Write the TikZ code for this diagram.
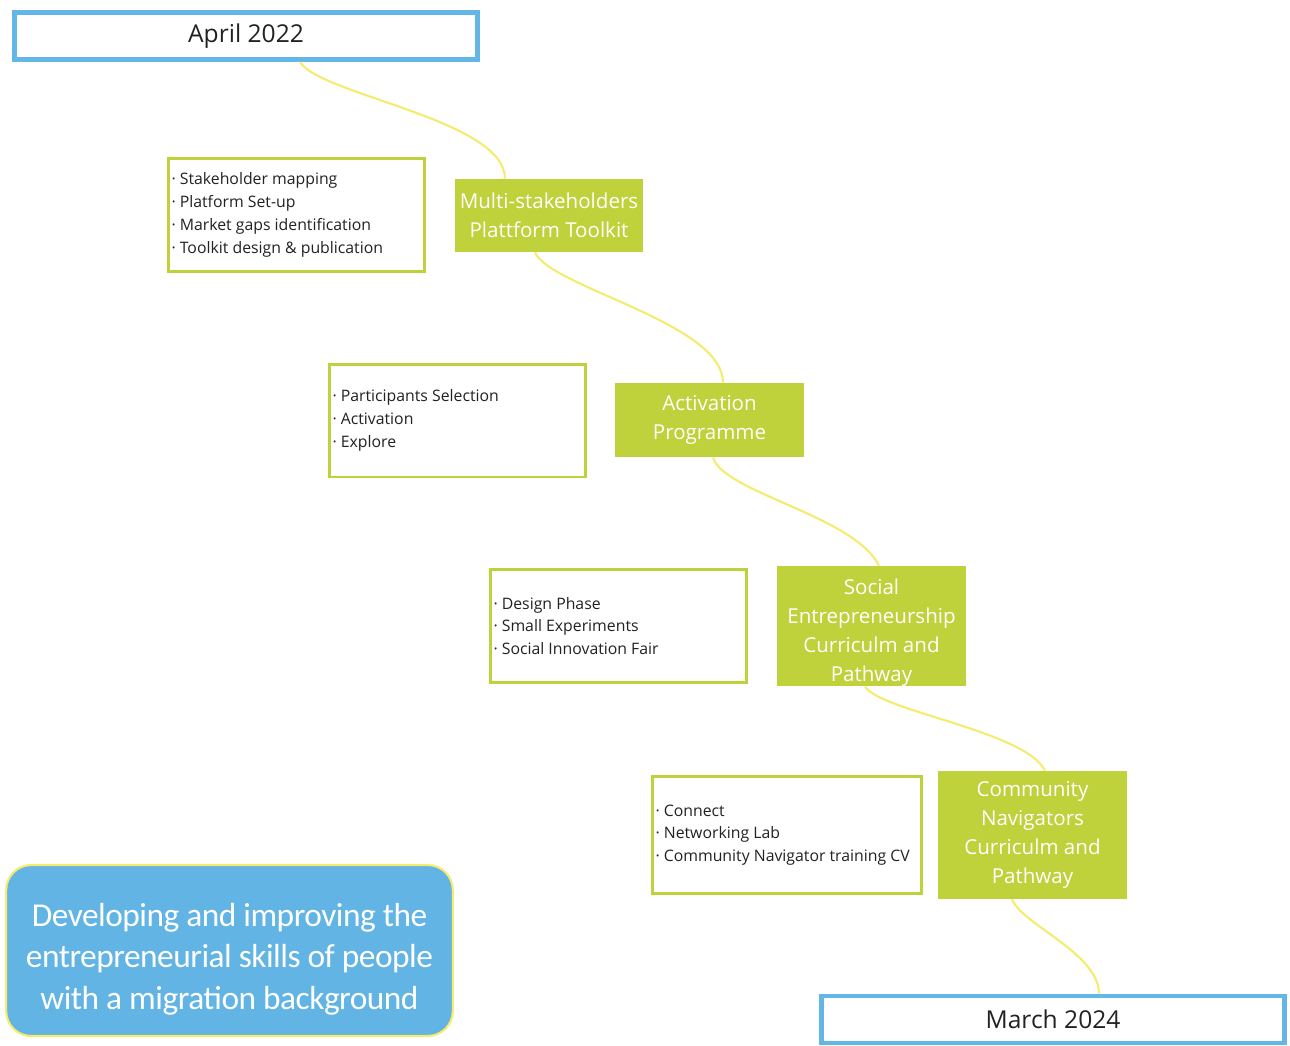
\documentclass[tikz,border=0pt]{standalone}
\usepackage{fontspec}
\setmainfont{Open Sans}
\newfontfamily\goalfont[LetterSpace=-1.5]{Carlito}
\definecolor{skyblue}{HTML}{64B6E6}
\definecolor{limegreen}{HTML}{BFD13B}
\definecolor{paleyellow}{HTML}{F5EB6E}
\definecolor{goalblue}{HTML}{62B4E4}
\definecolor{darktext}{HTML}{222222}
\begin{document}
\begin{tikzpicture}[x=0.02cm,y=-0.02cm,
	datebox/.style={draw=skyblue,line width=2.8pt,fill=white,minimum width=9.26cm,minimum height=0.94cm,inner sep=0pt,text=darktext,font=\fontsize{14}{17}\selectfont},
	phase/.style={fill=limegreen,minimum width=3.78cm,text width=3.7cm,align=flush center,inner sep=0pt,text=white,font=\fontsize{11.7}{16.5}\selectfont},
	tasks/.style={draw=limegreen,line width=1.7pt,fill=white,minimum width=5.12cm,minimum height=2.26cm,text width=5cm,inner xsep=0.06cm,align=flush left,text=darktext,font=\fontsize{9}{13}\selectfont},
	link/.style={paleyellow,line width=1.2pt}]
	\useasboundingbox (0,0) rectangle (1290,1045);
	% start and end
	\node[datebox] at (246,36) (start) {April 2022};
	\node[datebox] at (1053,1019.5) (finish) {March 2024};
	% phases
	\node[phase,minimum height=1.46cm] at (549,215.5) (toolkit) {Multi-stakeholders\\Plattform Toolkit};
	\node[phase,minimum height=1.48cm] at (709.5,420) (activation) {Activation\\Programme};
	\node[phase,minimum height=2.4cm] at (871.5,626) (social) {\rule{0pt}{16pt}Social\\Entrepreneurship\\Curriculm and\\Pathway};
	\node[phase,minimum height=2.56cm] at (1032.5,835) (navigators) {Community\\Navigators\\Curriculm and\\Pathway};
	% task lists
	\node[tasks] at (296.5,215) (toolkittasks) {· Stakeholder mapping\\· Platform Set-up\\· Market gaps identification\\· Toolkit design \& publication};
	\node[tasks] at (457.5,420.5) (activationtasks) {· Participants Selection\\· Activation\\· Explore};
	\node[tasks] at (618.5,626) (socialtasks) {· Design Phase\\· Small Experiments\\· Social Innovation Fair};
	\node[tasks,minimum width=5.38cm,minimum height=2.34cm,text width=5.26cm] at (787,835) (navigatortasks) {· Connect\\· Networking Lab\\· Community Navigator training CV};
	% goal
	\node[draw=paleyellow,line width=1.2pt,fill=goalblue,rounded corners=0.5cm,minimum width=8.86cm,minimum height=3.42cm,text width=8.7cm,align=flush center,text=white,font=\goalfont\fontsize{19}{23.8}\selectfont] at (229.5,950.5) (goal) {\rule{0pt}{23pt}Developing and improving the\\entrepreneurial skills of people\\with a migration background};
	% path
	\draw[link] ([xshift=1.08cm]start.south) .. controls +(20,33) and +(0,-59) .. ([xshift=-0.88cm]toolkit.north);
	\draw[link] ([xshift=-0.28cm]toolkit.south) .. controls +(15,35) and +(0,-60) .. ([xshift=0.27cm]activation.north);
	\draw[link] ([xshift=0.07cm]activation.south) .. controls +(10,35) and +(-25,-50) .. ([xshift=0.15cm]social.north);
	\draw[link] ([xshift=-0.13cm]social.south) .. controls +(15,25) and +(-20,-40) .. ([xshift=0.25cm]navigators.north);
	\draw[link] ([xshift=-0.41cm]navigators.south) .. controls +(10,25) and +(0,-40) .. ([xshift=0.92cm]finish.north);
\end{tikzpicture}
\end{document}
